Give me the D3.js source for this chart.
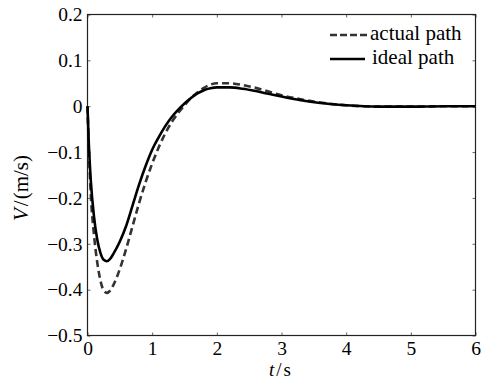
<!DOCTYPE html>
<html>
<head>
<meta charset="utf-8">
<script src="https://cdn.jsdelivr.net/npm/d3@7"></script>
<style>
  body { margin: 0; background: #fff; }
  svg text { font-family: "Liberation Serif", "Times New Roman", serif; }
</style>
</head>
<body>
<svg id="chart" width="491" height="379"></svg>
<script>
// time samples (s)
const times = [0, 0.02, 0.05, 0.1, 0.15, 0.2, 0.25, 0.3, 0.35, 0.4, 0.5, 0.6, 0.7, 0.8, 0.9, 1.0,
  1.1, 1.2, 1.3, 1.4, 1.5, 1.6, 1.7, 1.8, 1.9, 2.0, 2.2, 2.4, 2.6, 2.8, 3.0, 3.3, 3.6, 4.0, 4.5, 5.0, 5.5, 6.0];
const idealPath = [0, -0.08, -0.16, -0.24, -0.29, -0.32, -0.335, -0.338, -0.333, -0.322, -0.295, -0.26,
  -0.215, -0.17, -0.13, -0.095, -0.068, -0.044, -0.024, -0.008, 0.006, 0.018, 0.028, 0.035, 0.039, 0.041,
  0.041, 0.038, 0.033, 0.027, 0.021, 0.013, 0.007, 0.002, -0.001, -0.001, 0, 0];
const actualPath = [0, -0.09, -0.19, -0.28, -0.34, -0.38, -0.402, -0.407, -0.402, -0.39, -0.355, -0.31,
  -0.26, -0.21, -0.165, -0.125, -0.09, -0.06, -0.035, -0.015, 0.002, 0.018, 0.03, 0.04, 0.047, 0.05,
  0.05, 0.046, 0.04, 0.032, 0.024, 0.015, 0.008, 0.002, -0.001, -0.001, 0, 0];
const xTicks = [0, 1, 2, 3, 4, 5, 6];
const yTicks = [0.2, 0.1, 0, -0.1, -0.2, -0.3, -0.4, -0.5];
const legendLabels = ["actual path", "ideal path"];

const serif = "Liberation Serif";
const svg = d3.select("#chart");
const mLeft = 87.5, mRight = 475.5, mTop = 14.5, mBottom = 335.5;

const x = d3.scaleLinear().domain([0, 6]).range([mLeft, mRight]);
const y = d3.scaleLinear().domain([-0.5, 0.2]).range([mBottom, mTop]);

const fmt = v => (v < 0 ? "\u2212" : "") + (v === 0 ? "0" : Math.abs(v).toString());

// axes: ticks pointing inward
const axes = svg.append("g");
axes.append("g")
  .attr("transform", `translate(0,${mBottom})`)
  .call(d3.axisBottom(x).tickValues(xTicks).tickSize(-3).tickPadding(6).tickFormat(d3.format("d")));
axes.append("g")
  .attr("transform", `translate(0,${mTop})`)
  .call(d3.axisTop(x).tickValues(xTicks).tickSize(-3).tickFormat(""));
axes.append("g")
  .attr("transform", `translate(${mLeft},0)`)
  .call(d3.axisLeft(y).tickValues(yTicks).tickSize(-3).tickPadding(5).tickFormat(fmt));
axes.append("g")
  .attr("transform", `translate(${mRight},0)`)
  .call(d3.axisRight(y).tickValues(yTicks).tickSize(-3).tickFormat(""));

axes.selectAll(".domain").remove();
axes.selectAll(".tick line").attr("stroke", "#666");
axes.selectAll(".tick text")
  .attr("fill", "#000")
  .attr("font-family", serif)
  .attr("font-size", 19.5);

// frame
svg.append("rect")
  .attr("x", mLeft).attr("y", mTop)
  .attr("width", mRight - mLeft).attr("height", mBottom - mTop)
  .attr("fill", "none").attr("stroke", "#222").attr("stroke-width", 1.2);

const line = d3.line()
  .x((d, i) => x(times[i]))
  .y(d => y(d))
  .curve(d3.curveMonotoneX);

svg.append("path")
  .datum(actualPath)
  .attr("d", line)
  .attr("fill", "none")
  .attr("stroke", "#333")
  .attr("stroke-width", 2.6)
  .attr("stroke-dasharray", "7,4");

svg.append("path")
  .datum(idealPath)
  .attr("d", line)
  .attr("fill", "none")
  .attr("stroke", "#000")
  .attr("stroke-width", 2.6);

// legend
const legend = svg.append("g");
legendLabels.forEach((lab, i) => {
  const ly = 35 + i * 24;
  legend.append("line")
    .attr("x1", 330).attr("x2", i === 0 ? 368 : 365)
    .attr("y1", ly).attr("y2", ly)
    .attr("stroke", i === 0 ? "#333" : "#000")
    .attr("stroke-width", 2.6)
    .attr("stroke-dasharray", i === 0 ? "7,3" : null);
  legend.append("text")
    .attr("x", i === 0 ? 370 : 372)
    .attr("y", ly + 4.5)
    .attr("font-family", serif)
    .attr("font-size", 21)
    .text(lab);
});

// axis titles
const xt = svg.append("text")
  .attr("x", 280).attr("y", 376)
  .attr("text-anchor", "middle")
  .attr("font-family", serif)
  .attr("font-size", 19);
xt.append("tspan").attr("font-style", "italic").text("t");
xt.append("tspan").attr("dx", 2).text("/");
xt.append("tspan").attr("dx", 2).text("s");

const yt = svg.append("text")
  .attr("transform", "translate(28,188) rotate(-90)")
  .attr("text-anchor", "middle")
  .attr("font-family", serif)
  .attr("font-size", 21);
yt.append("tspan").attr("font-style", "italic").text("V");
yt.append("tspan").attr("dx", 2).text("/");
yt.append("tspan").attr("dx", 1).text("(m/s)");
</script>
</body>
</html>
